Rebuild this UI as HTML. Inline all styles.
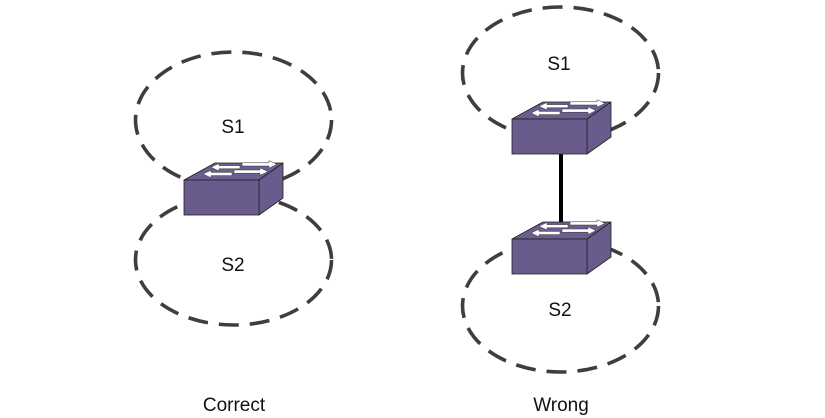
<!DOCTYPE html>
<html>
<head>
<meta charset="utf-8">
<style>
  html,body{margin:0;padding:0;background:#fff;}
  svg{display:block;}
  text{font-family:"Liberation Sans",sans-serif;font-size:19px;fill:#111;}
</style>
</head>
<body>
<svg width="825" height="418" viewBox="0 0 825 418" xmlns="http://www.w3.org/2000/svg">
  <defs>
    <g id="sw">
      <polygon points="0,0 31,-17 99,-17 75,0" fill="#6c5e90" stroke="#222" stroke-width="0.8" stroke-linejoin="round"/>
      <polygon points="75,0 99,-17 99,18 75,35" fill="#6a5b8d" stroke="#222" stroke-width="0.8" stroke-linejoin="round"/>
      <rect x="0" y="0" width="75" height="35" fill="#6a5b8d" stroke="#222" stroke-width="0.8"/>
      <!-- upper row arrows -->
      <polygon points="27,-12.8 35,-16.6 35,-14.4 56,-14.4 56,-11.2 35,-11.2 35,-9" fill="#fff" stroke="#333" stroke-width="0.5"/>
      <polygon points="93,-15.6 85,-19.4 85,-17.2 58,-17.2 58,-14 85,-14 85,-11.8" fill="#fff" stroke="#333" stroke-width="0.5"/>
      <!-- lower row arrows -->
      <polygon points="19,-6 27,-9.8 27,-7.6 48,-7.6 48,-4.4 27,-4.4 27,-2.2" fill="#fff" stroke="#333" stroke-width="0.5"/>
      <polygon points="84,-8.4 76,-12.2 76,-10 50,-10 50,-6.8 76,-6.8 76,-4.6" fill="#fff" stroke="#333" stroke-width="0.5"/>
    </g>
  </defs>

  <g fill="none" stroke="#3e3e3e" stroke-width="3.6" stroke-dasharray="20 11">
    <!-- left -->
    <ellipse cx="233.5" cy="120" rx="98" ry="68"/>
    <ellipse cx="233.5" cy="260" rx="98" ry="65"/>
    <!-- right -->
    <ellipse cx="560.5" cy="73" rx="98" ry="66"/>
    <ellipse cx="560.5" cy="306" rx="98" ry="66"/>
  </g>

  <!-- connector -->
  <line x1="561" y1="154" x2="561" y2="223" stroke="#000" stroke-width="4"/>

  <!-- switches -->
  <use href="#sw" transform="translate(184,180)"/>
  <use href="#sw" transform="translate(512,119)"/>
  <use href="#sw" transform="translate(512,239)"/>

  <!-- labels -->
  <text x="233" y="133" text-anchor="middle">S1</text>
  <text x="233" y="271" text-anchor="middle">S2</text>
  <text x="559" y="70" text-anchor="middle">S1</text>
  <text x="560" y="316" text-anchor="middle">S2</text>
  <text x="234" y="411" text-anchor="middle">Correct</text>
  <text x="561" y="411" text-anchor="middle">Wrong</text>
</svg>
</body>
</html>
